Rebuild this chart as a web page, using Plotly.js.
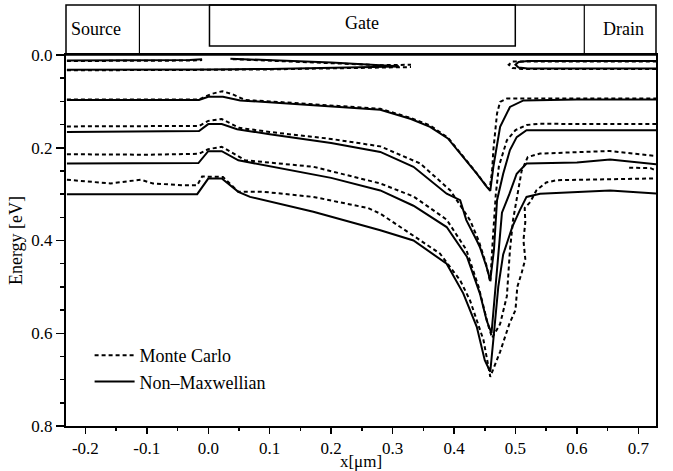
<!DOCTYPE html>
<html>
<head>
<meta charset="utf-8">
<script src="https://cdn.plot.ly/plotly-3.0.1.min.js"></script>
<style>html,body{margin:0;padding:0;background:#fff;}#plot{width:673px;height:471px;}</style>
</head>
<body>
<div id="plot"></div>
<script>
// ---- Data ----
// Level A / B (top lines) - Non-Maxwellian
const nmA1_x = [-0.23, -0.10, -0.03, -0.01];
const nmA1_y = [0.012, 0.012, 0.011, 0.009];
const nmA2_x = [0.036, 0.10, 0.20, 0.28, 0.31];
const nmA2_y = [0.008, 0.011, 0.016, 0.022, 0.024];
const nmB_x = [-0.23, -0.10, 0.00, 0.10, 0.20, 0.30, 0.31];
const nmB_y = [0.032, 0.032, 0.031, 0.030, 0.028, 0.026, 0.025];
const nmAB_x = [0.73, 0.60, 0.52, 0.505, 0.50, 0.505, 0.52, 0.60, 0.73];
const nmAB_y = [0.013, 0.013, 0.013, 0.015, 0.021, 0.027, 0.029, 0.029, 0.029];
// Level A / B - Monte Carlo
const mcA1_x = [-0.23, -0.10, -0.03, -0.01];
const mcA1_y = [0.013, 0.013, 0.012, 0.011];
const mcA2_x = [0.04, 0.10, 0.20, 0.28, 0.33];
const mcA2_y = [0.009, 0.012, 0.017, 0.022, 0.021];
const mcB_x = [-0.23, -0.10, 0.00, 0.10, 0.20, 0.30, 0.33];
const mcB_y = [0.033, 0.033, 0.032, 0.031, 0.029, 0.027, 0.026];
const mcAB_x = [0.73, 0.60, 0.51, 0.495, 0.489, 0.495, 0.51, 0.60, 0.73];
const mcAB_y = [0.014, 0.014, 0.013, 0.014, 0.021, 0.028, 0.030, 0.030, 0.030];

// Level C
const nmC_x = [-0.23, -0.10, -0.015, 0.0, 0.024, 0.052, 0.10, 0.20, 0.28, 0.33, 0.361, 0.39, 0.41, 0.437, 0.453, 0.459, 0.464, 0.475, 0.491, 0.513, 0.60, 0.73];
const nmC_y = [0.097, 0.097, 0.097, 0.090, 0.090, 0.098, 0.102, 0.110, 0.118, 0.138, 0.155, 0.180, 0.212, 0.256, 0.284, 0.293, 0.241, 0.155, 0.112, 0.098, 0.096, 0.096];
const mcC_x = [-0.23, -0.10, -0.015, 0.005, 0.023, 0.04, 0.06, 0.10, 0.20, 0.28, 0.33, 0.361, 0.39, 0.41, 0.437, 0.453, 0.458, 0.462, 0.464, 0.47, 0.475, 0.486, 0.52, 0.60, 0.73];
const mcC_y = [0.096, 0.096, 0.096, 0.084, 0.078, 0.085, 0.097, 0.100, 0.108, 0.116, 0.136, 0.152, 0.178, 0.210, 0.255, 0.283, 0.290, 0.250, 0.205, 0.126, 0.101, 0.094, 0.094, 0.094, 0.094];

// Level D
const nmD_x = [-0.23, -0.10, -0.015, 0.0, 0.022, 0.047, 0.10, 0.20, 0.28, 0.334, 0.388, 0.41, 0.42, 0.437, 0.442, 0.453, 0.459, 0.465, 0.470, 0.48, 0.491, 0.502, 0.518, 0.60, 0.73];
const nmD_y = [0.166, 0.165, 0.164, 0.149, 0.149, 0.160, 0.171, 0.190, 0.209, 0.241, 0.299, 0.313, 0.356, 0.400, 0.414, 0.457, 0.486, 0.420, 0.313, 0.256, 0.205, 0.177, 0.162, 0.162, 0.162];
const mcD_x = [-0.23, -0.10, -0.015, 0.0, 0.022, 0.05, 0.10, 0.20, 0.28, 0.345, 0.394, 0.426, 0.44, 0.452, 0.459, 0.463, 0.468, 0.473, 0.486, 0.50, 0.518, 0.54, 0.60, 0.73];
const mcD_y = [0.154, 0.154, 0.153, 0.142, 0.138, 0.157, 0.166, 0.181, 0.197, 0.234, 0.292, 0.356, 0.400, 0.450, 0.490, 0.400, 0.300, 0.240, 0.184, 0.162, 0.151, 0.148, 0.149, 0.149];

// Level E
const nmE_x = [-0.23, -0.10, -0.016, 0.0, 0.022, 0.049, 0.10, 0.20, 0.28, 0.334, 0.388, 0.421, 0.442, 0.453, 0.461, 0.466, 0.472, 0.478, 0.49, 0.502, 0.518, 0.60, 0.654, 0.73];
const nmE_y = [0.234, 0.234, 0.233, 0.2075, 0.2075, 0.227, 0.240, 0.265, 0.292, 0.325, 0.371, 0.435, 0.514, 0.572, 0.600, 0.520, 0.420, 0.340, 0.300, 0.256, 0.234, 0.232, 0.2255, 0.236];
const mcE_x = [-0.23, -0.15, -0.10, -0.015, 0.0, 0.022, 0.06, 0.10, 0.171, 0.28, 0.334, 0.388, 0.42, 0.44, 0.455, 0.462, 0.475, 0.486, 0.491, 0.496, 0.502, 0.51, 0.52, 0.54, 0.654, 0.73];
const mcE_y = [0.214, 0.214, 0.215, 0.213, 0.203, 0.198, 0.227, 0.232, 0.241, 0.277, 0.305, 0.355, 0.420, 0.500, 0.580, 0.610, 0.580, 0.520, 0.421, 0.356, 0.313, 0.250, 0.220, 0.2125, 0.207, 0.218];

// Level F
const nmF_x = [-0.23, -0.10, -0.018, 0.0, 0.022, 0.049, 0.068, 0.171, 0.28, 0.334, 0.388, 0.415, 0.437, 0.45, 0.459, 0.465, 0.472, 0.48, 0.495, 0.507, 0.518, 0.54, 0.654, 0.73];
const nmF_y = [0.300, 0.300, 0.300, 0.2665, 0.2665, 0.295, 0.306, 0.338, 0.378, 0.400, 0.450, 0.514, 0.586, 0.658, 0.683, 0.600, 0.500, 0.430, 0.370, 0.335, 0.306, 0.299, 0.292, 0.299];
const mcF_x = [-0.23, -0.20, -0.159, -0.11, -0.09, -0.04, -0.018, -0.01, 0.01, 0.024, 0.049, 0.09, 0.171, 0.226, 0.26, 0.28, 0.377, 0.41, 0.426, 0.448, 0.459, 0.475, 0.49, 0.50, 0.503, 0.51, 0.516, 0.513, 0.516, 0.515, 0.524, 0.534, 0.55, 0.567, 0.73];
const mcF_y = [0.269, 0.272, 0.277, 0.269, 0.277, 0.281, 0.281, 0.262, 0.263, 0.263, 0.295, 0.295, 0.306, 0.320, 0.330, 0.342, 0.428, 0.486, 0.529, 0.615, 0.694, 0.640, 0.580, 0.550, 0.500, 0.470, 0.440, 0.400, 0.360, 0.330, 0.317, 0.292, 0.275, 0.270, 0.266];
const mcStray_x = [0.685, 0.72, 0.73];
const mcStray_y = [0.243, 0.244, 0.250];

// Axis ticks / labels
const yTickVals = [0.0, 0.2, 0.4, 0.6, 0.8];
const yTickText = ['0.0', '0.2', '0.4', '0.6', '0.8'];
const xTickVals = [-0.2, -0.1, 0.0, 0.1, 0.2, 0.3, 0.4, 0.5, 0.6, 0.7];
const xTickText = ['-0.2', '-0.1', '0.0', '0.1', '0.2', '0.3', '0.4', '0.5', '0.6', '0.7'];
const regionLabels = ['Source', 'Gate', 'Drain'];
const regionLabelX = [-0.182, 0.251, 0.675];
const regionBounds = [-0.112, 0.002, 0.4997, 0.612];

// ---- Traces ----
const solid = {color: '#000', width: 2};
const dashed = {color: '#000', width: 2, dash: '4px,3px'};
function tr(x, y, line, name, show, rank) {
  return {x: x, y: y, type: 'scatter', mode: 'lines', line: line,
          name: name || '', showlegend: !!show, legendrank: rank || 1000, hoverinfo: 'skip'};
}
const traces = [
  tr(mcC_x, mcC_y, dashed, 'Monte Carlo', true, 1),
  tr(nmC_x, nmC_y, solid, 'Non\u2013Maxwellian', true, 2),
  tr(nmA1_x, nmA1_y, solid), tr(nmA2_x, nmA2_y, solid), tr(nmB_x, nmB_y, solid), tr(nmAB_x, nmAB_y, solid),
  tr(mcA1_x, mcA1_y, dashed), tr(mcA2_x, mcA2_y, dashed), tr(mcB_x, mcB_y, dashed), tr(mcAB_x, mcAB_y, dashed),
  tr(nmD_x, nmD_y, solid), tr(mcD_x, mcD_y, dashed),
  tr(nmE_x, nmE_y, solid), tr(mcE_x, mcE_y, dashed),
  tr(nmF_x, nmF_y, solid), tr(mcF_x, mcF_y, dashed),
  tr(mcStray_x, mcStray_y, dashed)
];

// ---- Device diagram above the plot ----
const yTop = 1.1348, yGateBot = 1.0245;
const shapes = [
  {type: 'rect', xref: 'paper', yref: 'paper', x0: 0, x1: 1, y0: 1, y1: yTop, line: {color: '#000', width: 1.5}},
  {type: 'line', xref: 'x', yref: 'paper', x0: regionBounds[0], x1: regionBounds[0], y0: 1, y1: yTop, line: {color: '#000', width: 1.2}},
  {type: 'rect', xref: 'x', yref: 'paper', x0: regionBounds[1], x1: regionBounds[2], y0: yGateBot, y1: yTop, line: {color: '#000', width: 1.5}},
  {type: 'line', xref: 'x', yref: 'paper', x0: regionBounds[3], x1: regionBounds[3], y0: 1, y1: yTop, line: {color: '#000', width: 1.2}}
];
const labelY = [1.070, 1.087, 1.070];
const annotations = regionLabels.map((t, i) => ({
  text: t, x: regionLabelX[i], xref: 'x', y: labelY[i], yref: 'paper',
  xanchor: 'center', yanchor: 'middle',
  showarrow: false, font: {size: 18, color: '#000', family: 'Liberation Serif'}
}));

const layout = {
  width: 673, height: 471,
  margin: {l: 66, r: 17, t: 55, b: 45},
  paper_bgcolor: '#fff', plot_bgcolor: '#fff',
  font: {family: 'Liberation Serif', color: '#000', size: 16},
  showlegend: true,
  legend: {x: 0.04, y: 0.24, xanchor: 'left', yanchor: 'top', bgcolor: 'rgba(0,0,0,0)',
           font: {size: 18, family: 'Liberation Serif'}, tracegroupgap: 0, itemwidth: 40},
  xaxis: {
    range: [-0.2315, 0.7287], tickmode: 'array', tickvals: xTickVals, ticktext: xTickText,
    ticks: 'outside', ticklen: 6, tickwidth: 1.5, tickcolor: '#000',
    minor: {tickmode: 'linear', tick0: 0.05, dtick: 0.1, ticks: 'outside', ticklen: 3, tickwidth: 1.5, tickcolor: '#000'},
    showline: true, linewidth: 2, linecolor: '#000', mirror: true,
    showgrid: false, zeroline: false,
    tickfont: {size: 17},
    title: {text: 'x[μm]', font: {size: 17}, standoff: 2}
  },
  yaxis: {
    range: [0.8, 0], tickmode: 'array', tickvals: yTickVals, ticktext: yTickText,
    ticks: 'outside', ticklen: 8, tickwidth: 1.5, tickcolor: '#000',
    minor: {tickmode: 'linear', tick0: 0, dtick: 0.05, ticks: 'outside', ticklen: 4, tickwidth: 1.5, tickcolor: '#000'},
    showline: true, linewidth: 2, linecolor: '#000', mirror: true,
    showgrid: false, zeroline: false,
    tickfont: {size: 17},
    title: {text: 'Energy [eV]', font: {size: 18}, standoff: 4}
  },
  shapes: shapes,
  annotations: annotations
};

Plotly.newPlot('plot', traces, layout, {displayModeBar: false, staticPlot: true});
</script>
</body>
</html>
